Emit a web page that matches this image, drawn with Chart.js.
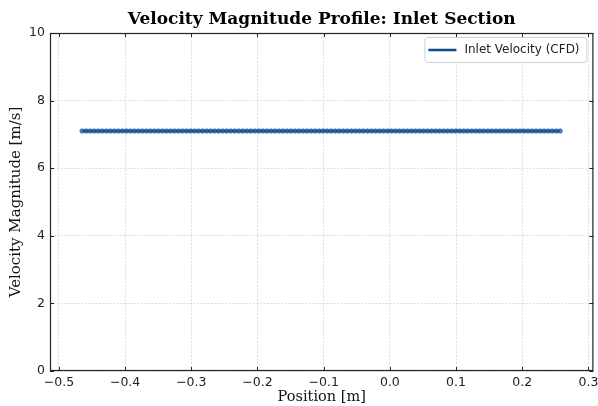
<!DOCTYPE html>
<html>
<head>
<meta charset="utf-8">
<script src="https://cdn.jsdelivr.net/npm/chart.js@4.4.1/dist/chart.umd.min.js"></script>
<style>
  html, body { margin: 0; padding: 0; background: #fff; }
  #wrap { width: 598px; height: 406px; }
</style>
</head>
<body>
<div id="wrap"><canvas id="velocityChart"></canvas></div>
<script>
const positions = [
  -0.4650, -0.4589, -0.4529, -0.4468, -0.4407, -0.4347, -0.4286, -0.4225, -0.4164, -0.4104,
  -0.4043, -0.3982, -0.3922, -0.3861, -0.3800, -0.3740, -0.3679, -0.3618, -0.3557, -0.3497,
  -0.3436, -0.3375, -0.3315, -0.3254, -0.3193, -0.3133, -0.3072, -0.3011, -0.2950, -0.2890,
  -0.2829, -0.2768, -0.2708, -0.2647, -0.2586, -0.2526, -0.2465, -0.2404, -0.2343, -0.2283,
  -0.2222, -0.2161, -0.2101, -0.2040, -0.1979, -0.1919, -0.1858, -0.1797, -0.1736, -0.1676,
  -0.1615, -0.1554, -0.1494, -0.1433, -0.1372, -0.1312, -0.1251, -0.1190, -0.1129, -0.1069,
  -0.1008, -0.0947, -0.0887, -0.0826, -0.0765, -0.0705, -0.0644, -0.0583, -0.0522, -0.0462,
  -0.0401, -0.0340, -0.0280, -0.0219, -0.0158, -0.0098, -0.0037, 0.0024, 0.0085, 0.0145,
  0.0206, 0.0267, 0.0327, 0.0388, 0.0449, 0.0510, 0.0570, 0.0631, 0.0692, 0.0752,
  0.0813, 0.0874, 0.0934, 0.0995, 0.1056, 0.1117, 0.1177, 0.1238, 0.1299, 0.1359,
  0.1420, 0.1481, 0.1541, 0.1602, 0.1663, 0.1724, 0.1784, 0.1845, 0.1906, 0.1966,
  0.2027, 0.2088, 0.2148, 0.2209, 0.2270, 0.2331, 0.2391, 0.2452, 0.2513, 0.2573
];

const velocity = [
  7.1, 7.1, 7.1, 7.1, 7.1, 7.1, 7.1, 7.1, 7.1, 7.1,
  7.1, 7.1, 7.1, 7.1, 7.1, 7.1, 7.1, 7.1, 7.1, 7.1,
  7.1, 7.1, 7.1, 7.1, 7.1, 7.1, 7.1, 7.1, 7.1, 7.1,
  7.1, 7.1, 7.1, 7.1, 7.1, 7.1, 7.1, 7.1, 7.1, 7.1,
  7.1, 7.1, 7.1, 7.1, 7.1, 7.1, 7.1, 7.1, 7.1, 7.1,
  7.1, 7.1, 7.1, 7.1, 7.1, 7.1, 7.1, 7.1, 7.1, 7.1,
  7.1, 7.1, 7.1, 7.1, 7.1, 7.1, 7.1, 7.1, 7.1, 7.1,
  7.1, 7.1, 7.1, 7.1, 7.1, 7.1, 7.1, 7.1, 7.1, 7.1,
  7.1, 7.1, 7.1, 7.1, 7.1, 7.1, 7.1, 7.1, 7.1, 7.1,
  7.1, 7.1, 7.1, 7.1, 7.1, 7.1, 7.1, 7.1, 7.1, 7.1,
  7.1, 7.1, 7.1, 7.1, 7.1, 7.1, 7.1, 7.1, 7.1, 7.1,
  7.1, 7.1, 7.1, 7.1, 7.1, 7.1, 7.1, 7.1, 7.1, 7.1
];

const xTicks = [-0.5, -0.4, -0.3, -0.2, -0.1, 0.0, 0.1, 0.2, 0.3];
const yTicks = [0, 2, 4, 6, 8, 10];

const lineColor = "#0f4a8c";
const sansFont = "'DejaVu Sans', sans-serif";
const serifFont = "'DejaVu Serif', serif";

// title, frame, inward ticks and the boxed legend inside the plot
const framePlugin = {
  id: "frame",
  afterDraw(chart) {
    const ctx = chart.ctx;
    const a = chart.chartArea;
    const xs = chart.scales.x;
    const ys = chart.scales.y;
    ctx.save();

    ctx.fillStyle = "#000";
    ctx.font = "bold 17px " + serifFont;
    ctx.textAlign = "center";
    ctx.textBaseline = "middle";
    ctx.fillText("Velocity Magnitude Profile: Inlet Section", (a.left + a.right) / 2, 20);

    ctx.strokeStyle = "#222";
    ctx.lineWidth = 1;
    ctx.beginPath();
    xTicks.forEach((v) => {
      const px = Math.round(xs.getPixelForValue(v)) + 0.5;
      ctx.moveTo(px, a.bottom); ctx.lineTo(px, a.bottom - 4);
      ctx.moveTo(px, a.top); ctx.lineTo(px, a.top + 4);
    });
    yTicks.forEach((v) => {
      const py = Math.round(ys.getPixelForValue(v)) + 0.5;
      ctx.moveTo(a.left, py); ctx.lineTo(a.left + 4, py);
      ctx.moveTo(a.right, py); ctx.lineTo(a.right - 4, py);
    });
    ctx.stroke();

    ctx.lineWidth = 1.2;
    ctx.strokeRect(a.left + 0.5, a.top + 0.5, a.right - a.left - 1, a.bottom - a.top - 1);

    // legend
    const bx = a.right - 169, by = a.top + 4, bw = 162, bh = 25;
    ctx.fillStyle = "rgba(255,255,255,0.9)";
    ctx.strokeStyle = "#d0d0d0";
    ctx.lineWidth = 1;
    ctx.beginPath();
    ctx.roundRect(bx + 0.5, by + 0.5, bw, bh, 3);
    ctx.fill();
    ctx.stroke();
    ctx.strokeStyle = lineColor;
    ctx.lineWidth = 2.5;
    ctx.beginPath();
    ctx.moveTo(bx + 4, by + 13);
    ctx.lineTo(bx + 32, by + 13);
    ctx.stroke();
    ctx.fillStyle = "#222";
    ctx.font = "12px " + sansFont;
    ctx.textAlign = "left";
    ctx.fillText(chart.data.datasets[0].label, bx + 40, by + 13);

    ctx.restore();
  },
};

const data1 = {
  datasets: [
    {
      label: "Inlet Velocity (CFD)",
      data: positions.map((x, i) => ({ x: x, y: velocity[i] })),
      borderColor: lineColor,
      borderWidth: 2.5,
      pointRadius: 2.3,
      pointBackgroundColor: "rgba(40,95,160,0.75)",
      pointBorderColor: "rgba(15,74,140,0.85)",
      pointBorderWidth: 0.6,
      tension: 0,
    },
  ],
};

const gridStyle = {
  color: "#d4d4d4",
  lineWidth: 0.8,
  drawTicks: false,
};

const config1 = {
  type: "line",
  data: data1,
  options: {
    responsive: true,
    maintainAspectRatio: false,
    animation: false,
    layout: { padding: { top: 33, right: 1, left: 0, bottom: 0 } },
    plugins: {
      legend: { display: false },
      tooltip: { enabled: false },
    },
    scales: {
      x: {
        type: "linear",
        min: -0.5135,
        max: 0.3075,
        afterBuildTicks: (scale) => {
          scale.ticks = xTicks.map((v) => ({ value: v }));
        },
        afterFit: (scale) => {
          scale.height = 35;
          scale.paddingLeft = 0;
          scale.paddingRight = 0;
        },
        grid: gridStyle,
        border: { display: false, dash: [2, 1.5] },
        ticks: {
          padding: 4,
          color: "#222",
          font: { family: sansFont, size: 12.5 },
          maxRotation: 0,
          callback: (v) => v.toFixed(1).replace("-", "\u2212"),
        },
        title: {
          display: true,
          text: "Position [m]",
          color: "#111",
          font: { family: serifFont, size: 14.5 },
          padding: { top: 0, bottom: 0 },
        },
      },
      y: {
        min: 0,
        max: 10,
        afterBuildTicks: (scale) => {
          scale.ticks = yTicks.map((v) => ({ value: v }));
        },
        afterFit: (scale) => {
          scale.width = 50;
          scale.paddingTop = 0;
          scale.paddingBottom = 0;
        },
        grid: gridStyle,
        border: { display: false, dash: [2, 1.5] },
        ticks: {
          padding: 5,
          color: "#222",
          font: { family: sansFont, size: 12.5 },
          callback: (v) => String(v),
        },
        title: {
          display: true,
          text: "Velocity Magnitude [m/s]",
          color: "#111",
          font: { family: serifFont, size: 15 },
          padding: { top: 7, bottom: 0 },
        },
      },
    },
  },
  plugins: [framePlugin],
};

let myChart1 = new Chart(document.getElementById("velocityChart"), config1);
</script>
</body>
</html>
